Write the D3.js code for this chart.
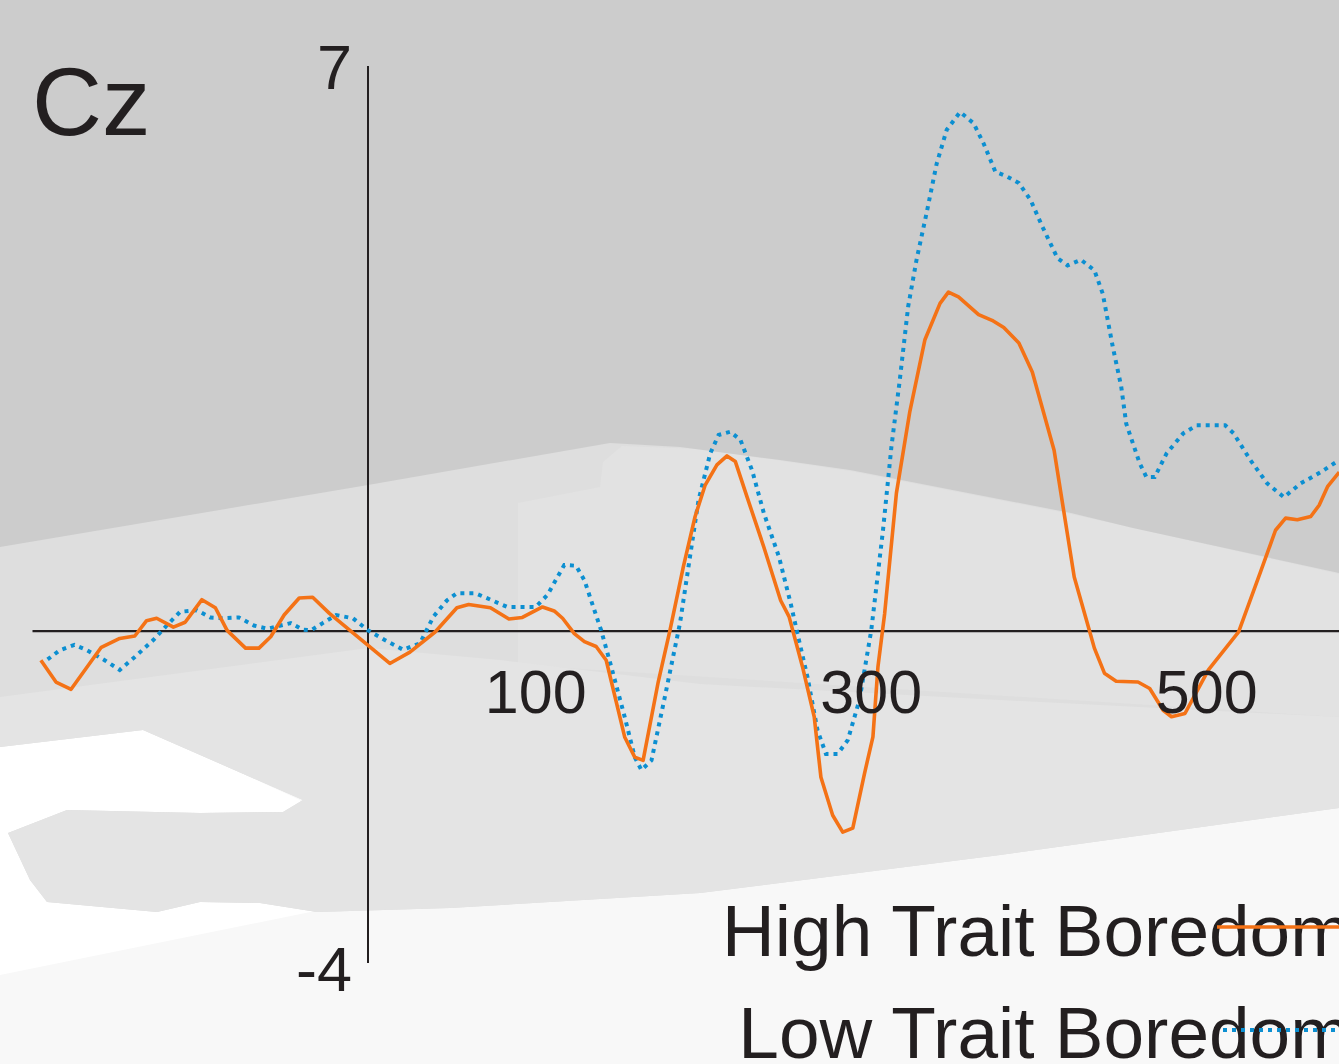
<!DOCTYPE html>
<html>
<head>
<meta charset="utf-8">
<script src="https://cdn.jsdelivr.net/npm/d3@7"></script>
<style>
  html, body { margin: 0; padding: 0; background: #f8f8f8; overflow: hidden; }
  svg { display: block; }
  text { font-family: "Liberation Sans", Arial, "Helvetica Neue", sans-serif; fill: #231f20; }
</style>
</head>
<body>
<svg id="chart" width="1339" height="1064"></svg>
<script>
// ERP at electrode Cz: grand averages for the two trait-boredom groups.
// Time in ms relative to stimulus onset, amplitude in microvolts.

const channelName = "Cz";

const highTime = [-195,-186,-177,-159,-148,-139,-132,-126,-116,-109,-99,-91,-84,-73,-65,-58,-50,-41,-33,-23,
  13,25,40,53,60,73,84,92,104,111,116,123,129,136,142,153,159,164,173,180,188,195,201,208,214,219,226,236,246,
  251,259,266,270,277,283,289,296,301,304,308,315,323,332,341,346,352,364,372,379,388,396,409,421,430,433,439,
  446,459,466,474,479,487,501,519,532,541,547,554,562,567,572,579];
const highValues = [-0.36,-0.63,-0.72,-0.20,-0.09,-0.06,0.13,0.16,0.05,0.11,0.39,0.29,0.01,-0.21,-0.21,-0.07,0.20,0.41,0.42,0.22,
  -0.40,-0.26,-0.01,0.29,0.33,0.29,0.15,0.17,0.30,0.25,0.16,-0.03,-0.13,-0.19,-0.36,-1.31,-1.56,-1.60,-0.63,0.01,0.80,1.42,1.81,2.06,2.17,2.10,1.66,1.04,0.38,
  0.18,-0.44,-1.06,-1.81,-2.28,-2.49,-2.44,-1.76,-1.31,-0.44,0.22,1.71,2.72,3.61,4.06,4.20,4.14,3.92,3.85,3.76,3.57,3.21,2.24,0.67,0.01,-0.21,-0.52,
  -0.62,-0.63,-0.71,-0.98,-1.06,-1.02,-0.48,-0.01,0.73,1.25,1.40,1.38,1.42,1.56,1.79,1.97];

const lowTime = [-191,-184,-175,-168,-157,-148,-139,-128,-120,-112,-102,-94,-86,-77,-68,-60,-52,-46,-39,-34,-27,-19,-9,0,
  10,21,31,39,47,53,64,73,83,100,107,117,124,129,139,145,153,159,163,169,177,186,197,204,209,216,222,229,236,245,
  252,256,262,268,273,280,286,293,300,307,312,317,322,327,333,339,345,353,361,367,374,381,388,395,402,411,417,425,
  433,438,444,449,452,460,464,469,476,486,494,511,516,526,536,546,556,568,579];
const lowValues = [-0.35,-0.24,-0.17,-0.23,-0.36,-0.48,-0.32,-0.11,0.07,0.24,0.26,0.17,0.16,0.17,0.07,0.03,0.07,0.10,0.02,0.01,0.10,0.20,0.16,0.01,
  -0.11,-0.23,-0.15,0.18,0.38,0.47,0.47,0.39,0.30,0.30,0.45,0.82,0.81,0.63,0.01,-0.44,-1.06,-1.56,-1.72,-1.60,-0.81,0.10,1.62,2.20,2.43,2.47,2.37,1.99,1.46,0.92,
  0.34,-0.03,-0.57,-1.23,-1.52,-1.52,-1.35,-0.85,0.01,1.25,2.28,3.11,4.02,4.60,5.18,5.79,6.21,6.43,6.29,6.04,5.69,5.63,5.55,5.34,5.01,4.62,4.53,4.60,
  4.47,4.18,3.52,3.03,2.57,2.08,1.91,1.91,2.20,2.45,2.55,2.55,2.45,2.12,1.83,1.66,1.83,1.97,2.12];

const xTickValues = [100, 300, 500];
const yTickValues = [7, -4];
const seriesNames = ["High Trait Boredom", "Low Trait Boredom"];

const svg = d3.select("#chart");
const W = 1339, H = 1064;

// Backdrop: grey studio-style fill with lighter bands toward the bottom.
const bg = svg.append("g");
bg.append("rect").attr("width", W).attr("height", H).attr("fill", "#f8f8f8");
const poly = d3.line().curve(d3.curveLinearClosed);
const bandBottom = [[1339,808],[1000,855],[700,893],[450,908],[317,912],[260,903],[200,902],
    [157,912],[47,902],[30,880],[8,833],[67,810],[200,813],[283,812],[303,800],[143,730],[0,747]];
bg.append("path").attr("fill", "#ffffff")
  .attr("d", poly([[0,740],[145,729],[300,800],[330,908],[0,975]]));
bg.append("path").attr("fill", "#dedede")
  .attr("d", poly([[0,0],[1339,0]].concat(bandBottom)));
bg.append("path").attr("fill", "#e2e2e2")
  .attr("d", poly([[518,640],[518,503],[600,487],[603,462],[622,446],[700,449],[850,471],[1071,514],[1339,574],[1339,717],[518,665]]));
bg.append("path").attr("fill", "#e4e4e4")
  .attr("d", poly([[0,697],[368,648],[500,660],[700,684],[1000,700],[1339,717]].concat(bandBottom)));
bg.append("path").attr("fill", "#cccccc")
  .attr("d", poly([[0,0],[1339,0],[1339,573],[1133,528],[1071,513],[850,470],[780,460],[680,447],[610,443],[368,485],[0,547]]));

// Scales
const x = d3.scaleLinear().domain([-200, 600]).range([32.5, 32.5 + 800 * 1.6775]);
const y = d3.scaleLinear().domain([-4.11, 7]).range([963, 66]);

const ink = "#231f20";

// Zero (time) axis and amplitude axis at stimulus onset
svg.append("line")
  .attr("x1", x(-200)).attr("x2", x(600))
  .attr("y1", y(0)).attr("y2", y(0))
  .attr("stroke", ink).attr("stroke-width", 2.4);
svg.append("line")
  .attr("x1", x(0)).attr("x2", x(0))
  .attr("y1", y(7)).attr("y2", y(-4.11))
  .attr("stroke", ink).attr("stroke-width", 2);

// Waveforms
const wave = d3.line().x(d => x(d[0])).y(d => y(d[1]));
const lowData = lowTime.map((t, i) => [t, lowValues[i]]);
const highData = highTime.map((t, i) => [t, highValues[i]]);

svg.append("path").datum(lowData)
  .attr("d", wave).attr("fill", "none")
  .attr("stroke", "#0c8fd1").attr("stroke-width", 4)
  .attr("stroke-dasharray", "4,5");
svg.append("path").datum(highData)
  .attr("d", wave).attr("fill", "none")
  .attr("stroke", "#f47216").attr("stroke-width", 3.6)
  .attr("stroke-linejoin", "round");

// Tick labels
svg.selectAll(".xtick").data(xTickValues).enter().append("text")
  .attr("class", "xtick")
  .attr("x", d => x(d)).attr("y", y(0) + 82)
  .attr("text-anchor", "middle")
  .style("font-size", "61px")
  .text(d => d);
svg.selectAll(".ytick").data(yTickValues).enter().append("text")
  .attr("class", "ytick")
  .attr("x", x(0) - 16)
  .attr("y", d => y(d))
  .attr("dy", d => d > 0 ? "0.36em" : "0.58em")
  .attr("text-anchor", "end")
  .style("font-size", "63px")
  .text(d => d);

// Channel label
svg.append("text")
  .attr("x", 32).attr("y", 135)
  .style("font-size", "97px")
  .text(channelName);

// Legend (right-aligned, running off the right edge)
const legendColors = ["#f47216", "#0c8fd1"];
const legendDash = [null, "4,5"];
const legendBase = [956, 1058];
const legendLineY = [927, 1030];
const legendLineX = [1217, 1223];
seriesNames.forEach((name, i) => {
  svg.append("text")
    .attr("x", 1351).attr("y", legendBase[i])
    .attr("text-anchor", "end")
    .style("font-size", "73px")
    .text(name);
  svg.append("line")
    .attr("x1", legendLineX[i]).attr("x2", W + 20)
    .attr("y1", legendLineY[i]).attr("y2", legendLineY[i])
    .attr("stroke", legendColors[i])
    .attr("stroke-width", i === 0 ? 3.6 : 4)
    .attr("stroke-dasharray", legendDash[i]);
});
</script>
</body>
</html>
